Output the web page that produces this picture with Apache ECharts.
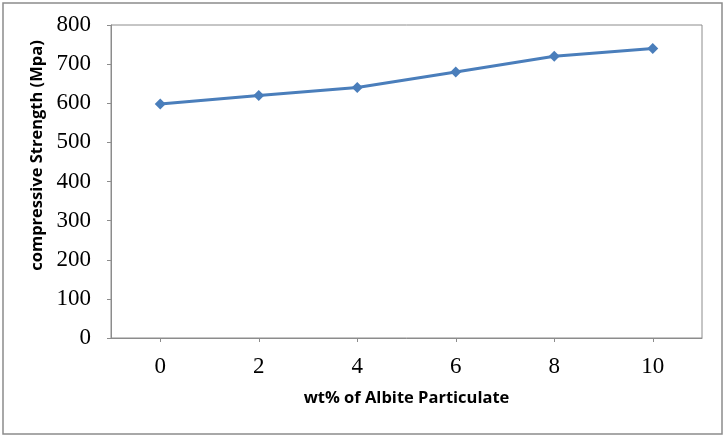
<!DOCTYPE html>
<html>
<head>
<meta charset="utf-8">
<script src="https://cdn.jsdelivr.net/npm/echarts@6/dist/echarts.min.js"></script>
<style>
  html, body { margin: 0; padding: 0; background: #fff; }
  #main { width: 726px; height: 438px; }
</style>
</head>
<body>
<div id="main"></div>
<script>
// data
var categories = ['0', '2', '4', '6', '8', '10'];
var strength = [598, 620, 640, 680, 720, 740];
var yTicks = [0, 800, 100]; // min, max, interval

var myChart = echarts.init(document.getElementById('main'));
myChart.setOption({
  backgroundColor: '#fff',
  animation: false,
  graphic: [{
    type: 'rect',
    shape: { x: 3, y: 3, width: 719, height: 431 },
    style: { fill: 'none', stroke: '#8c8c8c', lineWidth: 1.5 }
  }],
  grid: {
    left: 111,
    right: 24,
    top: 25,
    bottom: 100,
    show: true,
    borderColor: '#8c8c8c',
    borderWidth: 1
  },
  xAxis: {
    type: 'category',
    data: categories,
    boundaryGap: true,
    name: 'wt% of Albite Particulate',
    nameLocation: 'middle',
    nameGap: 52,
    nameTextStyle: {
      fontFamily: 'Open Sans',
      fontWeight: 'bold',
      fontSize: 16.5,
      color: '#000'
    },
    axisLine: { show: true, lineStyle: { color: '#8c8c8c', width: 1 } },
    axisTick: { show: true, alignWithLabel: true, length: 4, lineStyle: { color: '#8c8c8c' } },
    axisLabel: {
      margin: 17,
      fontFamily: 'Liberation Serif',
      fontSize: 23,
      color: '#000'
    },
    splitLine: { show: false }
  },
  yAxis: {
    type: 'value',
    min: yTicks[0],
    max: yTicks[1],
    interval: yTicks[2],
    name: 'compressive Strength (Mpa)',
    nameLocation: 'middle',
    nameGap: 60,
    nameTextStyle: {
      fontFamily: 'Open Sans',
      fontWeight: 'bold',
      fontSize: 16.5,
      color: '#000',
      padding: [0, 0, 0, 52]
    },
    axisLine: { show: true, lineStyle: { color: '#8c8c8c', width: 1 } },
    axisTick: { show: true, inside: false, length: 4, lineStyle: { color: '#8c8c8c' } },
    axisLabel: {
      margin: 20,
      fontFamily: 'Liberation Serif',
      fontSize: 23,
      color: '#000'
    },
    splitLine: { show: false }
  },
  series: [{
    name: 'compressive Strength',
    type: 'line',
    data: strength,
    symbol: 'diamond',
    symbolSize: 11,
    lineStyle: { color: '#4a7ebb', width: 3 },
    itemStyle: { color: '#4a7ebb' }
  }]
});
</script>
</body>
</html>
